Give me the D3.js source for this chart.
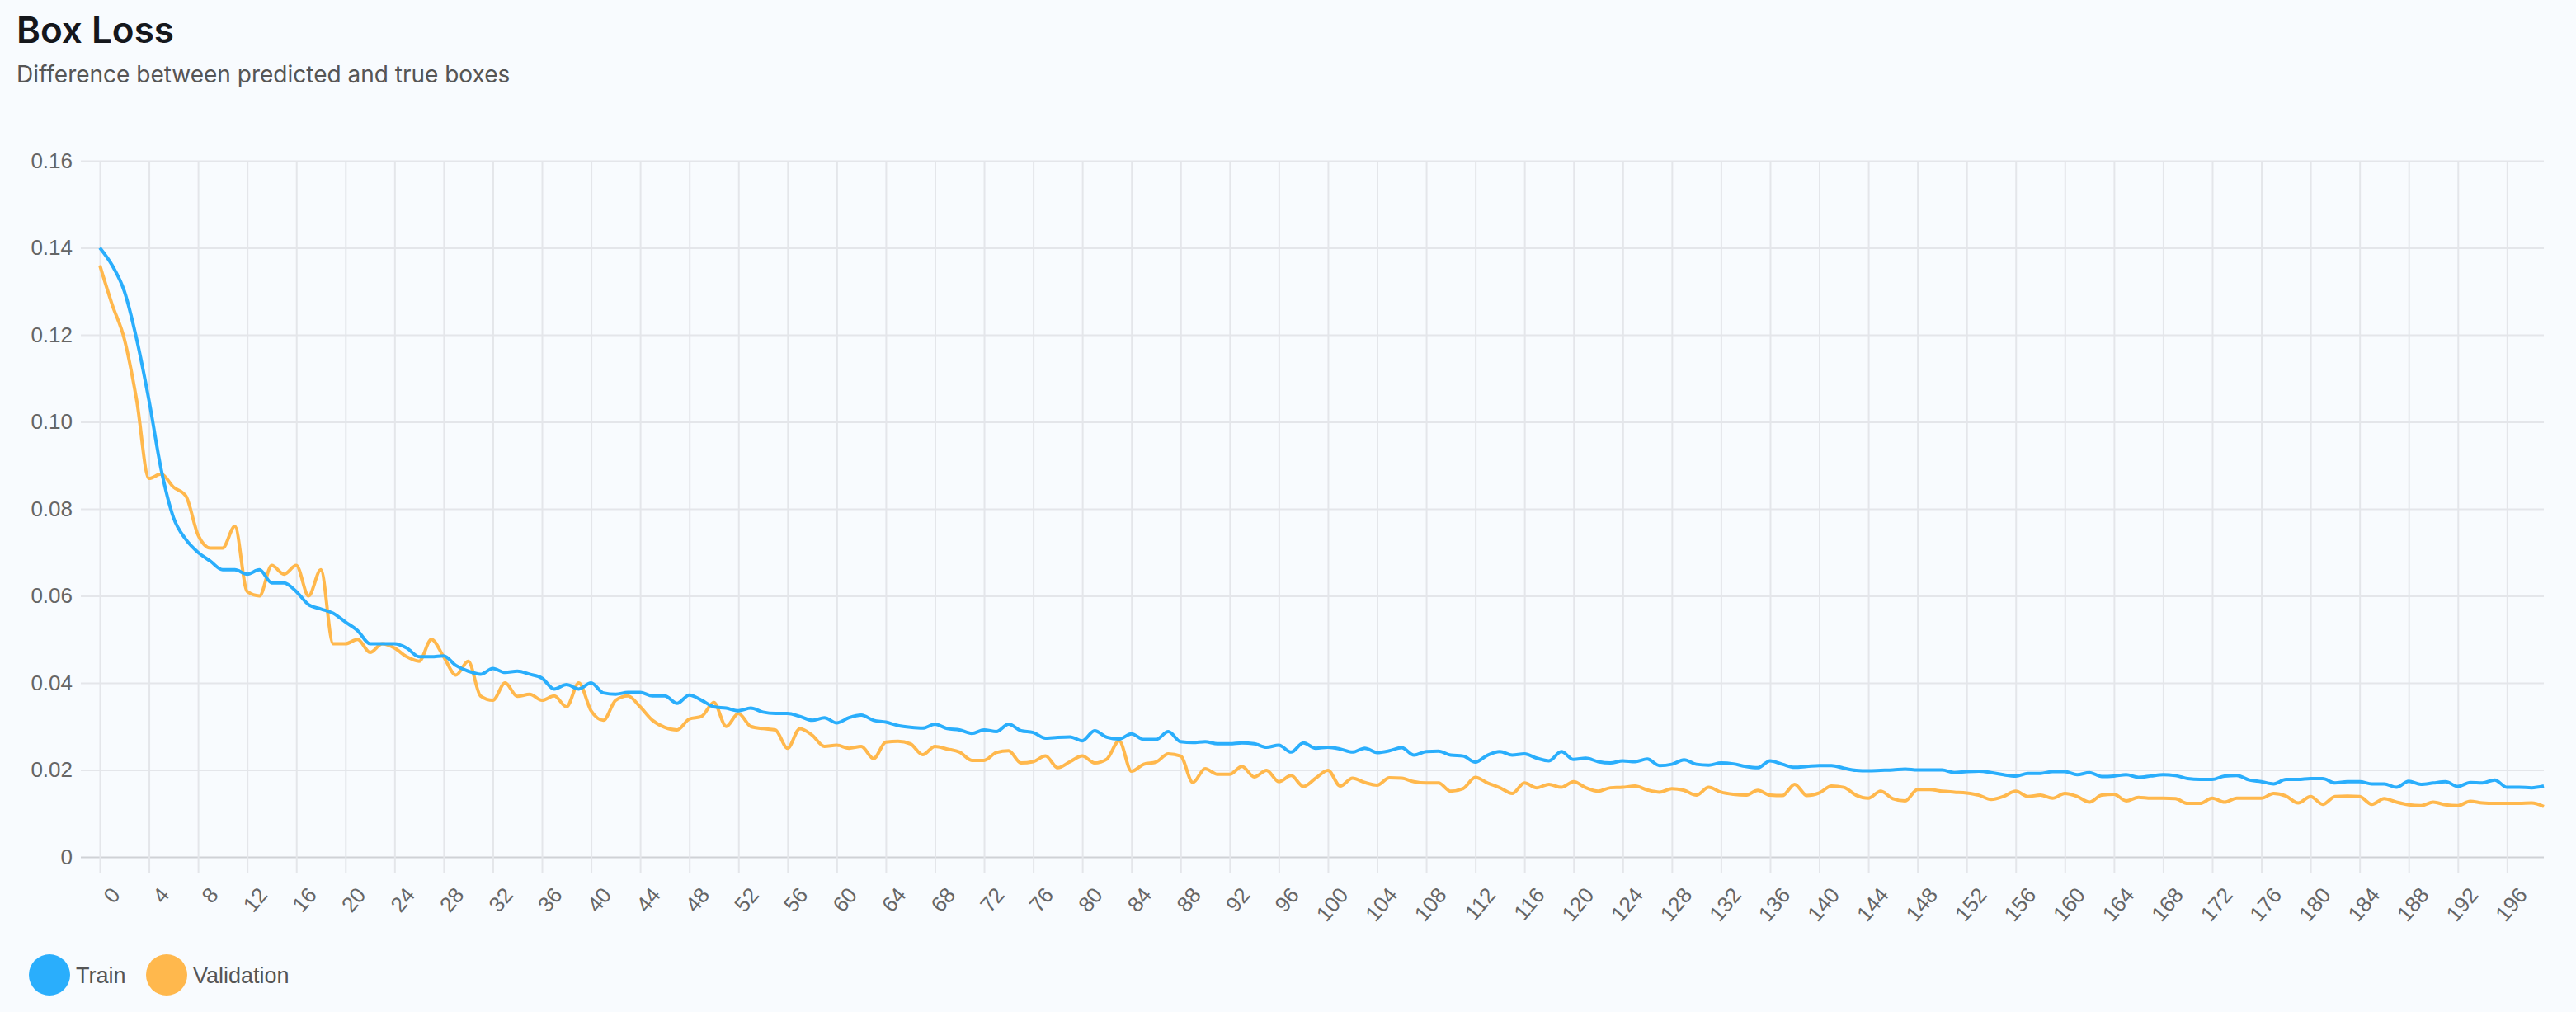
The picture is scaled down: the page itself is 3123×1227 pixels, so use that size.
<!DOCTYPE html>
<html>
<head>
<meta charset="utf-8">
<script src="https://cdn.jsdelivr.net/npm/d3@7"></script>
<style>
  body { margin: 0; background: #f8fbfe; }
  svg { display: block; }
</style>
</head>
<body>
<svg id="chart" width="3123" height="1227"></svg>
<script>
// values, epochs 0..199
const trainLoss = [
  0.140, 0.136, 0.130, 0.119, 0.105, 0.089, 0.078, 0.073, 0.070, 0.068,
  0.066, 0.066, 0.065, 0.066, 0.063, 0.063, 0.061, 0.058, 0.057, 0.056,
  0.054, 0.052, 0.049, 0.049, 0.049, 0.048, 0.046, 0.046, 0.0462, 0.044,
  0.0427, 0.042, 0.0433, 0.0424, 0.0427, 0.042, 0.0411, 0.0386, 0.0396, 0.0386,
  0.040, 0.0377, 0.0374, 0.0378, 0.0378, 0.037, 0.037, 0.0353, 0.0372, 0.036,
  0.0345, 0.0342, 0.0336, 0.0342, 0.0333, 0.033, 0.033, 0.0323, 0.0314, 0.032,
  0.0308, 0.032, 0.0326, 0.0314, 0.031, 0.0302, 0.0298, 0.0296, 0.0305, 0.0295,
  0.0292, 0.0284, 0.0292, 0.0288, 0.0305, 0.029, 0.0286, 0.0273, 0.0275, 0.0276,
  0.0267, 0.029, 0.0275, 0.0271, 0.0283, 0.027, 0.027, 0.0288, 0.0265, 0.0263,
  0.0265, 0.026, 0.026, 0.0262, 0.026, 0.0252, 0.0257, 0.0241, 0.0262, 0.025,
  0.0252, 0.0248, 0.0241, 0.025, 0.024, 0.0244, 0.0251, 0.0234, 0.0242, 0.0243,
  0.0234, 0.0232, 0.0218, 0.0234, 0.0242, 0.0234, 0.0237, 0.0227, 0.0221, 0.0242,
  0.0224, 0.0227, 0.0219, 0.0216, 0.0221, 0.0219, 0.0225, 0.021, 0.0213, 0.0223,
  0.0213, 0.0211, 0.0216, 0.0214, 0.0208, 0.0205, 0.0221, 0.0213, 0.0206, 0.0208,
  0.021, 0.021, 0.0204, 0.0199, 0.0198, 0.0199, 0.020, 0.0202, 0.020, 0.020,
  0.020, 0.0194, 0.0196, 0.0197, 0.0194, 0.0189, 0.0186, 0.0192, 0.0192, 0.0196,
  0.0196, 0.0189, 0.0194, 0.0185, 0.0186, 0.0189, 0.0183, 0.0186, 0.0189, 0.0187,
  0.018, 0.0178, 0.0178, 0.0186, 0.0187, 0.0177, 0.0173, 0.0168, 0.0178, 0.0178,
  0.018, 0.018, 0.017, 0.0173, 0.0173, 0.0168, 0.0168, 0.016, 0.0174, 0.0167,
  0.017, 0.0173, 0.0162, 0.0171, 0.017, 0.0177, 0.016, 0.016, 0.0159, 0.0163
];

const valLoss = [
  0.136, 0.127, 0.119, 0.105, 0.087, 0.088, 0.085, 0.083, 0.074, 0.071,
  0.071, 0.076, 0.061, 0.060, 0.067, 0.065, 0.067, 0.060, 0.066, 0.049,
  0.049, 0.050, 0.047, 0.049, 0.048, 0.046, 0.045, 0.050, 0.046, 0.0418,
  0.045, 0.037, 0.036, 0.040, 0.0369, 0.0374, 0.036, 0.037, 0.0345, 0.040,
  0.0336, 0.0314, 0.036, 0.037, 0.0345, 0.0314, 0.0298, 0.0292, 0.0317, 0.0323,
  0.0355, 0.030, 0.033, 0.030, 0.0295, 0.0292, 0.025, 0.0295, 0.028, 0.0254,
  0.0257, 0.025, 0.0254, 0.0226, 0.0264, 0.0266, 0.026, 0.0235, 0.0254, 0.0248,
  0.0241, 0.0222, 0.0222, 0.024, 0.0244, 0.0216, 0.0219, 0.0232, 0.0205, 0.0219,
  0.0232, 0.0216, 0.0225, 0.0267, 0.0197, 0.0213, 0.0218, 0.0237, 0.0232, 0.0171,
  0.0203, 0.019, 0.019, 0.0208, 0.0184, 0.0199, 0.0173, 0.0187, 0.0162, 0.0181,
  0.0199, 0.0163, 0.0181, 0.0171, 0.0165, 0.0182, 0.0181, 0.0173, 0.017, 0.017,
  0.0151, 0.0157, 0.0183, 0.017, 0.0159, 0.0146, 0.017, 0.0159, 0.0167, 0.016,
  0.0173, 0.0159, 0.0151, 0.0159, 0.016, 0.0163, 0.0154, 0.0149, 0.0157, 0.0153,
  0.0142, 0.016, 0.0149, 0.0144, 0.0142, 0.0153, 0.0142, 0.0141, 0.0167, 0.0141,
  0.0147, 0.0163, 0.016, 0.0142, 0.0135, 0.0151, 0.0134, 0.0129, 0.0155, 0.0155,
  0.0151, 0.0149, 0.0147, 0.0142, 0.0132, 0.0139, 0.0151, 0.0139, 0.0142, 0.0135,
  0.0146, 0.0139, 0.0126, 0.0142, 0.0144, 0.0129, 0.0137, 0.0135, 0.0135, 0.0134,
  0.0123, 0.0123, 0.0135, 0.0126, 0.0135, 0.0135, 0.0135, 0.0146, 0.014, 0.0124,
  0.0139, 0.0121, 0.0139, 0.014, 0.0139, 0.0121, 0.0134, 0.0126, 0.012, 0.0118,
  0.0126, 0.012, 0.0118, 0.0128, 0.0124, 0.0123, 0.0123, 0.0123, 0.0124, 0.0116
];

const yTicks = [0, 0.02, 0.04, 0.06, 0.08, 0.10, 0.12, 0.14, 0.16];
const xTicks = d3.range(0, 200, 4);
const seriesNames = ["Train", "Validation"];
const seriesColors = ["#2aaefc", "#ffb84d"];

const svg = d3.select("#chart");
const plotLeft = 121, plotRight = 3084, plotTop = 195, plotBottom = 1039;

const x = d3.scaleLinear().domain([0, trainLoss.length - 1]).range([plotLeft, plotRight]);
const y = d3.scaleLinear().domain([0, 0.16]).range([plotBottom, plotTop]);

// title
svg.append("text").attr("x", 20).attr("y", 52)
  .style("font", "600 44px Inter, 'Noto Sans', sans-serif").attr("fill", "#15171c")
  .text("Box Loss");
svg.append("text").attr("x", 20).attr("y", 100)
  .style("font", "28px Inter, 'Noto Sans', sans-serif").attr("fill", "#555")
  .text("Difference between predicted and true boxes");

// horizontal grid + y labels
let yAxis = d3.axisLeft(y).tickValues(yTicks)
  .tickSize(-(plotRight - plotLeft + 23))
  .tickFormat(d => d === 0 ? "0" : d3.format(".2f")(d));
svg.append("g").attr("transform", `translate(${plotLeft - 23},0)`).call(yAxis)
  .call(g => g.select(".domain").remove())
  .call(g => g.selectAll("line").attr("stroke", d => d === 0 ? "#cfd2d6" : "#e4e6ea").attr("stroke-width", 2))
  .call(g => g.selectAll("text").attr("x", -10).attr("fill", "#666")
    .style("font", "26px 'Liberation Sans', Arial, sans-serif"));

// vertical grid + x labels
let xAxis = d3.axisBottom(x).tickValues(xTicks).tickFormat("");
svg.append("g").attr("transform", `translate(0,${plotBottom})`).call(xAxis)
  .call(g => g.select(".domain").remove())
  .call(g => g.selectAll("line").attr("y2", 19).attr("y1", -(plotBottom - plotTop)).attr("stroke", "#e4e6ea").attr("stroke-width", 2));

svg.append("g").selectAll("text").data(xTicks).join("text")
  .attr("transform", d => `translate(${x(d) + 12},1074) rotate(-50)`)
  .attr("text-anchor", "end").attr("dy", "0.7em")
  .attr("fill", "#666").style("font", "26px 'Liberation Sans', Arial, sans-serif")
  .text(d => d);

// lines
let line = d3.line().x((d, i) => x(i)).y(d => y(d)).curve(d3.curveMonotoneX);
[valLoss, trainLoss].forEach((s, k) => {
  svg.append("path").attr("d", line(s)).attr("fill", "none")
    .attr("stroke", seriesColors[1 - k]).attr("stroke-width", 4)
    .attr("stroke-linejoin", "round");
});

// legend
let legendX = [60, 202];
seriesNames.forEach((name, i) => {
  svg.append("circle").attr("cx", legendX[i]).attr("cy", 1182).attr("r", 25).attr("fill", seriesColors[i]);
  svg.append("text").attr("x", legendX[i] + 32).attr("y", 1192)
    .attr("fill", "#555").style("font", "27px 'Liberation Sans', Arial, sans-serif")
    .text(name);
});
</script>
</body>
</html>
